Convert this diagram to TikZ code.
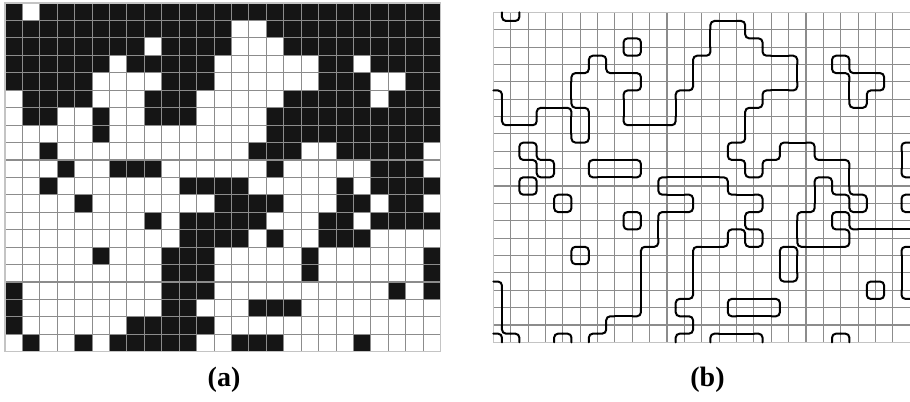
\documentclass[tikz,border=0pt]{standalone}
\usepackage{fontspec}
\setmainfont{Liberation Serif}
\definecolor{pixblack}{HTML}{151515}
\definecolor{gridgray}{HTML}{8C8C8C}
\definecolor{bordergray}{HTML}{C4C4C4}
\tikzset{
  pixfill/.style={fill=pixblack},
  gridline/.style={draw=gridgray,line width=0.8pt},
  gridborder/.style={draw=bordergray,line width=1pt},
  contour/.style={draw=black,line width=1.5pt,rounded corners=3pt,line cap=round},
  caption/.style={font=\bfseries\fontsize{21}{24}\selectfont,inner sep=0pt}
}
\def\pixdata{%
{1,0,1,1,1,1,1,1,1,1,1,1,1,1,1,1,1,1,1,1,1,1,1,1,1},%
{1,1,1,1,1,1,1,1,1,1,1,1,1,0,0,1,1,1,1,1,1,1,1,1,1},%
{1,1,1,1,1,1,1,1,0,1,1,1,1,0,0,0,1,1,1,1,1,1,1,1,1},%
{1,1,1,1,1,1,0,1,1,1,1,1,0,0,0,0,0,0,1,1,0,1,1,1,1},%
{1,1,1,1,1,0,0,0,0,1,1,1,0,0,0,0,0,0,1,1,1,0,0,1,1},%
{0,1,1,1,1,0,0,0,1,1,1,0,0,0,0,0,1,1,1,1,1,0,1,1,1},%
{0,1,1,0,0,1,0,0,1,1,1,0,0,0,0,1,1,1,1,1,1,1,1,1,1},%
{0,0,0,0,0,1,0,0,0,0,0,0,0,0,0,1,1,1,1,1,1,1,1,1,1},%
{0,0,1,0,0,0,0,0,0,0,0,0,0,0,1,1,1,0,0,1,1,1,1,1,0},%
{0,0,0,1,0,0,1,1,1,0,0,0,0,0,0,1,0,0,0,0,0,1,1,1,0},%
{0,0,1,0,0,0,0,0,0,0,1,1,1,1,0,0,0,0,0,1,0,1,1,1,1},%
{0,0,0,0,1,0,0,0,0,0,0,0,1,1,1,1,0,0,0,1,1,0,1,1,0},%
{0,0,0,0,0,0,0,0,1,0,1,1,1,1,1,0,0,0,1,1,0,1,1,1,1},%
{0,0,0,0,0,0,0,0,0,0,1,1,1,1,0,1,0,0,1,1,1,0,0,0,0},%
{0,0,0,0,0,1,0,0,0,1,1,1,0,0,0,0,0,1,0,0,0,0,0,0,1},%
{0,0,0,0,0,0,0,0,0,1,1,1,0,0,0,0,0,1,0,0,0,0,0,0,1},%
{1,0,0,0,0,0,0,0,0,1,1,1,0,0,0,0,0,0,0,0,0,0,1,0,1},%
{1,0,0,0,0,0,0,0,0,1,1,0,0,0,1,1,1,0,0,0,0,0,0,0,0},%
{1,0,0,0,0,0,0,1,1,1,1,1,0,0,0,0,0,0,0,0,0,0,0,0,0},%
{0,1,0,0,1,0,1,1,1,1,1,0,0,1,1,1,0,0,0,0,1,0,0,0,0}}
\foreach \rowl [count=\j from 0] in \pixdata {%
  \foreach \v [count=\i from 0] in \rowl {%
    \expandafter\xdef\csname px-\j-\i\endcsname{\v}}}
\newcommand\pxv[2]{\csname px-\the\numexpr#1\relax-\the\numexpr#2\relax\endcsname}
\newcommand\ctrTL{\draw[contour] (\i+0.5,\j) -- (\i+0.5,\j+0.5) -- (\i,\j+0.5);}
\newcommand\ctrTR{\draw[contour] (\i+0.5,\j) -- (\i+0.5,\j+0.5) -- (\i+1,\j+0.5);}
\newcommand\ctrBR{\draw[contour] (\i+1,\j+0.5) -- (\i+0.5,\j+0.5) -- (\i+0.5,\j+1);}
\newcommand\ctrBL{\draw[contour] (\i,\j+0.5) -- (\i+0.5,\j+0.5) -- (\i+0.5,\j+1);}
\newcommand\ctrH{\draw[contour] (\i,\j+0.5) -- (\i+1,\j+0.5);}
\newcommand\ctrV{\draw[contour] (\i+0.5,\j) -- (\i+0.5,\j+1);}
\begin{document}
\begin{tikzpicture}[x=0.75pt,y=-0.75pt]
\useasboundingbox[fill=white] (0,0) rectangle (910,401);
% ---------- (a) pixel grid ----------
\begin{scope}[xshift=3.675pt,yshift=-2.325pt,x=13.0725pt,y=-13.0725pt]
  \foreach \j in {0,...,19}{\foreach \i in {0,...,24}{%
    \ifnum\pxv{\j}{\i}=1 \fill[pixfill] (\i,\j) rectangle ++(1,1);\fi}}
  \foreach \i in {1,...,24}{\draw[gridline] (\i,0) -- (\i,20);}
  \foreach \j in {1,...,19}{\draw[gridline] (0,\j) -- (25,\j);}
  \draw[gridborder] (0,0) rectangle (25,20);
\end{scope}
% ---------- (b) dual grid with contours ----------
\begin{scope}[xshift=369.975pt,yshift=-9.225pt,x=13.0275pt,y=-13.0275pt]
  \foreach \i in {1,...,23}{\draw[gridline] (\i,0) -- (\i,19);}
  \foreach \j in {1,...,18}{\draw[gridline] (0,\j) -- (24,\j);}
  \draw[gridborder] (0,0) rectangle (24,19);
  \foreach \j in {0,...,18}{\foreach \i in {0,...,23}{%
    \edef\cellcase{\the\numexpr 8*\pxv{\j}{\i}+4*\pxv{\j}{\i+1}+2*\pxv{\j+1}{\i+1}+\pxv{\j+1}{\i}\relax}%
    \ifcase\cellcase\relax
    \or \ctrBL
    \or \ctrBR
    \or \ctrH
    \or \ctrTR
    \or \ctrTR\ctrBL
    \or \ctrV
    \or \ctrTL
    \or \ctrTL
    \or \ctrV
    \or \ctrTR\ctrBL
    \or \ctrTR
    \or \ctrH
    \or \ctrBR
    \or \ctrBL
    \fi}}
\end{scope}
\node[caption] (capa) at (224,380) {(a)};
\node[caption] (capb) at (707.5,380) {(b)};
\end{tikzpicture}
\end{document}
